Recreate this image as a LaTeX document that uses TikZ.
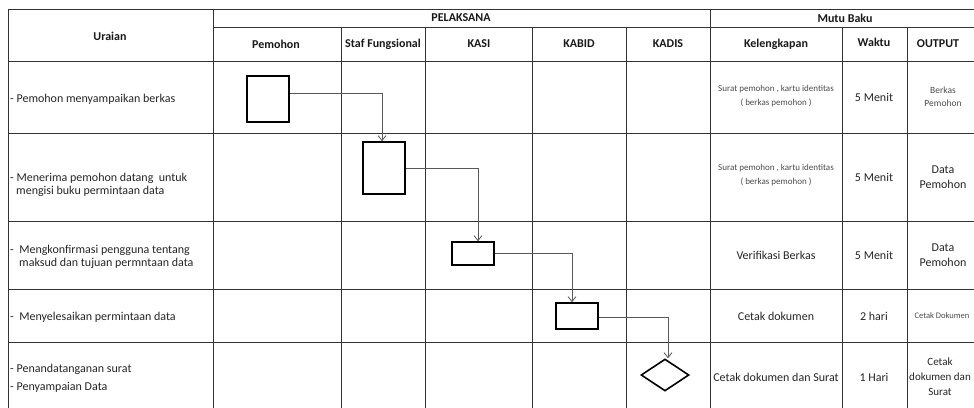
\documentclass[tikz,border=0pt]{standalone}
\usepackage{fontspec}
\setmainfont{Carlito}
\usetikzlibrary{arrows.meta,shapes.geometric}
\begin{document}
\begin{tikzpicture}[x=1pt,y=-1pt,
  grid/.style={draw=black!80,line width=0.8pt},
  hdr/.style={font=\fontsize{12}{14}\selectfont\bfseries,text=black!90,inner sep=0pt},
  body/.style={font=\fontsize{12}{13}\selectfont,text=black!85,inner sep=0pt,anchor=west,align=left},
  cell/.style={font=\fontsize{12}{15}\selectfont,text=black!85,inner sep=0pt,align=center},
  small/.style={font=\fontsize{8.5}{13}\selectfont,text=black!70,inner sep=0pt,align=center},
  proc/.style={draw=black,line width=1.6pt,inner sep=0pt,minimum width=42pt},
  dec/.style={diamond,draw=black,line width=1.6pt,inner sep=0pt,minimum width=48pt,minimum height=32pt},
  flow/.style={draw=black!65,line width=0.8pt,-{Straight Barb[length=5pt,width=8pt]}}
]
\useasboundingbox (0,0) rectangle (974,407);
\fill[white] (0,0) rectangle (974,407);

% grid
\draw[grid] (8,9) -- (990,9);
\draw[grid] (213,27) -- (990,27);
\foreach \yy in {61,133,221,289,342} \draw[grid] (8,\yy) -- (990,\yy);
\foreach \xx in {8,213,710} \draw[grid] (\xx,9) -- (\xx,420);
\foreach \xx in {341,425,532,626,842,907} \draw[grid] (\xx,27) -- (\xx,420);

% headers
\node[hdr] (hUraian) at (110,36) {Uraian};
\node[hdr] (hPel) at (461,18) {PELAKSANA};
\node[hdr] (hMutu) at (845,18) {Mutu Baku};
\node[hdr] (hPem) at (276,44) {Pemohon};
\node[hdr] (hStaf) at (383,44) {Staf Fungsional};
\node[hdr] (hKasi) at (479,44) {KASI};
\node[hdr] (hKabid) at (579,44) {KABID};
\node[hdr] (hKadis) at (668,44) {KADIS};
\node[hdr] (hKel) at (776,44) {Kelengkapan};
\node[hdr] (hWaktu) at (874,42) {Waktu};
\node[hdr] (hOut) at (938,44) {OUTPUT};

% uraian
\node[body] (u1) at (10,99) {- Pemohon menyampaikan berkas};
\node[body] (u2) at (10,184.5) {- Menerima pemohon datang\ \ untuk\\\hspace*{6pt}mengisi buku permintaan data};
\node[body] (u3) at (10,257) {- \ Mengkonfirmasi pengguna tentang\\\hspace*{9pt}maksud dan tujuan permntaan data};
\node[body] (u4) at (10,317) {- \ Menyelesaikan permintaan data};
\node[body,font=\fontsize{12}{18}\selectfont] (u5) at (10,378) {- Penandatanganan surat\\- Penyampaian Data};

% kelengkapan
\node[small,font=\fontsize{9}{14}\selectfont] (k1) at (776,96) {Surat pemohon , kartu identitas\\( berkas pemohon )};
\node[small,font=\fontsize{9}{14}\selectfont] (k2) at (776,175.5) {Surat pemohon , kartu identitas\\( berkas pemohon )};
\node[cell] (k3) at (776,255) {Verifikasi Berkas};
\node[cell] (k4) at (776,316) {Cetak dokumen};
\node[cell] (k5) at (776,377) {Cetak dokumen dan Surat};

% waktu
\node[cell] (w1) at (874,97) {5 Menit};
\node[cell] (w2) at (874,177) {5 Menit};
\node[cell] (w3) at (874,255) {5 Menit};
\node[cell] (w4) at (874,316) {2 hari};
\node[cell] (w5) at (874,377) {1 Hari};

% output
\node[small,font=\fontsize{9.5}{13}\selectfont] (o1) at (943,96.5) {Berkas\\Pemohon};
\node[cell] (o2) at (943,177.5) {Data\\Pemohon};
\node[cell] (o3) at (943,255.5) {Data\\Pemohon};
\node[small] (o4) at (942,316) {Cetak Dokumen};
\node[cell,font=\fontsize{11}{15}\selectfont] (o5) at (940,377) {Cetak\\dokumen dan\\Surat};

% flow shapes
\node[proc,minimum height=46pt] (b1) at (268,99) {};
\node[proc,minimum height=52pt] (b2) at (384,168) {};
\node[proc,minimum height=23pt] (b3) at (473,253.5) {};
\node[proc,minimum height=26pt] (b4) at (577,316) {};
\node[dec] (d1) at (665,375) {};

% connectors
\draw[flow] ([yshift=6pt]b1.east) -| ([xshift=-2pt]b2.north);
\draw[flow] (b2.east) -| ([xshift=5pt]b3.north);
\draw[flow] (b3.east) -| ([xshift=-5pt]b4.north);
\draw[flow] ([yshift=-1pt]b4.east) -| ([xshift=3pt]d1.north);
\end{tikzpicture}
\end{document}
